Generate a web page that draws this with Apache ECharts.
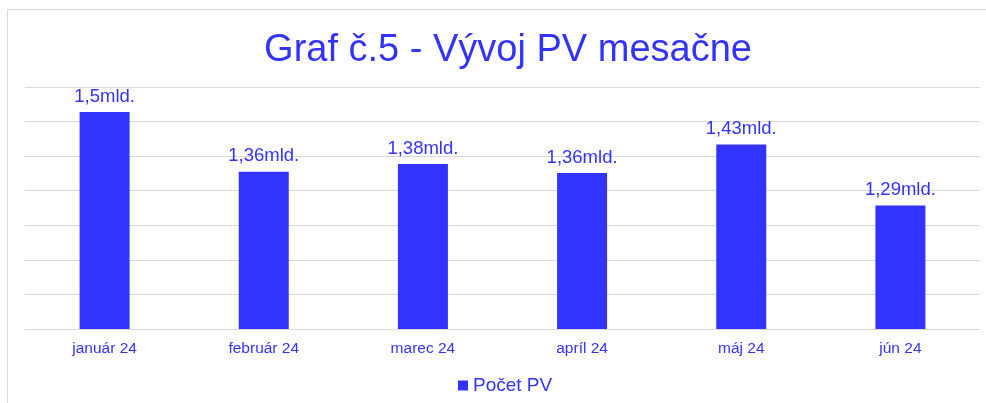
<!DOCTYPE html>
<html>
<head>
<meta charset="utf-8">
<script src="https://cdn.jsdelivr.net/npm/echarts@6/dist/echarts.min.js"></script>
<style>
  html, body { margin: 0; padding: 0; background: #fff; }
  #chart { width: 986px; height: 403px; }
</style>
</head>
<body>
<div id="chart"></div>
<script>
// mesiace a pocet PV (v mld.)
var months = ['január 24', 'február 24', 'marec 24', 'apríl 24', 'máj 24', 'jún 24'];
var pocetPV = [1.502, 1.364, 1.382, 1.361, 1.427, 1.286];
var yMin = 1.0, yMax = 1.56, yStep = 0.08;

var blue = '#3333ff';
var font = '"Liberation Sans", Arial, sans-serif';

var myChart = echarts.init(document.getElementById('chart'));
var option = {
    animation: false,
    textStyle: { fontFamily: font },
    graphic: [{
        type: 'rect',
        shape: { x: 7.5, y: 9.5, width: 1000, height: 420 },
        style: { fill: 'none', stroke: '#d9d9d9', lineWidth: 1 },
        silent: true
    }],
    title: {
        text: 'Graf č.5 - Vývoj PV mesačne',
        left: 503,
        textAlign: 'center',
        top: 27,
        textStyle: { color: blue, fontSize: 38, fontWeight: 'normal', fontFamily: font }
    },
    legend: {
        data: ['Počet PV'],
        left: 453,
        top: 371,
        icon: 'rect',
        itemWidth: 10,
        itemHeight: 10,
        textStyle: { color: blue, fontSize: 19, fontFamily: font }
    },
    grid: { left: 25, right: 6, top: 87, bottom: 74 },
    xAxis: {
        type: 'category',
        data: months,
        axisLine: { lineStyle: { color: '#d9d9d9' } },
        axisTick: { show: false },
        axisLabel: { color: blue, fontSize: 15.5, margin: 12, fontFamily: font }
    },
    yAxis: {
        type: 'value',
        min: yMin,
        max: yMax,
        interval: yStep,
        axisLabel: { show: false },
        axisLine: { show: false },
        axisTick: { show: false },
        splitLine: { lineStyle: { color: '#d9d9d9' } }
    },
    series: [{
        name: 'Počet PV',
        type: 'bar',
        barWidth: 50,
        data: pocetPV,
        itemStyle: { color: blue },
        label: {
            show: true,
            position: 'top',
            distance: 6,
            color: blue,
            fontSize: 18.5,
            fontFamily: font,
            formatter: function (p) {
                return (Math.round(p.value * 100) / 100).toString().replace('.', ',') + 'mld.';
            }
        }
    }]
};
myChart.setOption(option);
</script>
</body>
</html>
